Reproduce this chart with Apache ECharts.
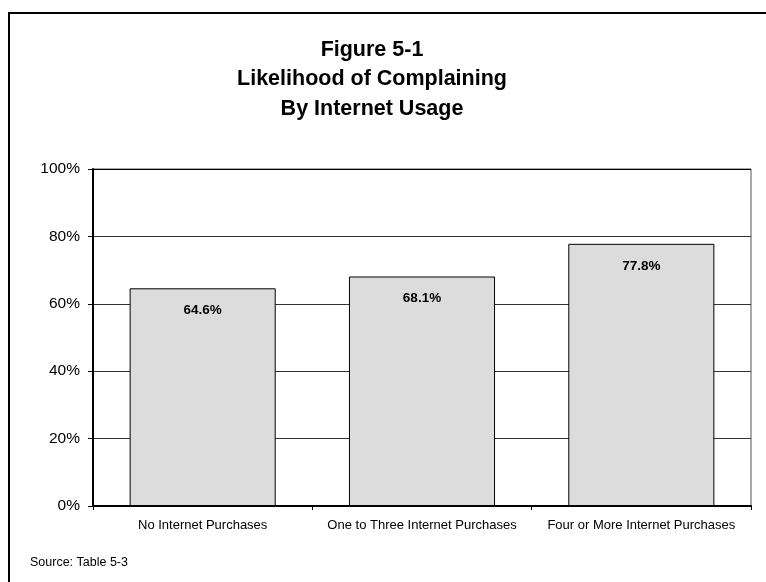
<!DOCTYPE html>
<html>
<head>
<meta charset="utf-8">
<script src="https://cdn.jsdelivr.net/npm/echarts@6/dist/echarts.min.js"></script>
<style>
html,body{margin:0;padding:0;background:#fff;}
#chart{width:766px;height:582px;}
</style>
</head>
<body>
<div id="chart"></div>
<script>
const categories = ['No Internet Purchases', 'One to Three Internet Purchases', 'Four or More Internet Purchases'];
const values = [64.6, 68.1, 77.8];
const yTicks = [0, 20, 40, 60, 80, 100];
const titleLines = ['Figure 5-1', 'Likelihood of Complaining', 'By Internet Usage'];
const sourceText = 'Source: Table 5-3';

const chart = echarts.init(document.getElementById('chart'));
const FONT = '"Liberation Sans", Arial, sans-serif';
chart.setOption({
  animation: false,
  backgroundColor: '#fff',
  title: [{
    text: titleLines.join('\n'),
    left: 367,
    top: 30,
    textAlign: 'center',
    textStyle: { fontFamily: FONT, fontWeight: 'bold', fontSize: 21.5, lineHeight: 29.5, color: '#000' }
  }, {
    text: sourceText,
    left: 25,
    top: 551,
    textStyle: { fontFamily: FONT, fontWeight: 'normal', fontSize: 12.5, color: '#000' }
  }],
  graphic: [{
    type: 'rect',
    shape: { x: 9, y: 13, width: 800, height: 600 },
    style: { fill: 'none', stroke: '#000', lineWidth: 2 },
    silent: true
  }],
  grid: { left: 93, right: 15, top: 169, bottom: 76, show: true, borderColor: '#555', borderWidth: 1 },
  xAxis: {
    type: 'category',
    data: categories,
    axisLine: { lineStyle: { color: '#000', width: 2 } },
    axisTick: { show: true, length: 4, lineStyle: { color: '#000' } },
    axisLabel: { fontFamily: FONT, fontSize: 13, color: '#000', margin: 13, interval: 0 }
  },
  yAxis: {
    type: 'value',
    min: yTicks[0],
    max: yTicks[yTicks.length - 1],
    interval: 20,
    axisLine: { show: true, lineStyle: { color: '#000', width: 2 } },
    axisTick: { show: true, length: 5, lineStyle: { color: '#000' } },
    axisLabel: { fontFamily: FONT, fontSize: 15.5, color: '#000', margin: 13, formatter: v => v + '%' },
    splitLine: { show: true, lineStyle: { color: ['#333', '#333', '#333', '#333', '#333', '#000'], width: 1 } }
  },
  series: [{
    type: 'bar',
    data: values,
    barCategoryGap: '33.4%',
    itemStyle: { color: '#dcdcdc', borderColor: '#000', borderWidth: 1 },
    label: {
      show: true,
      position: 'insideTop',
      distance: 15,
      fontFamily: FONT,
      fontWeight: 'bold',
      fontSize: 13.5,
      color: '#000',
      formatter: p => p.value.toFixed(1) + '%'
    }
  }]
});
</script>
</body>
</html>
